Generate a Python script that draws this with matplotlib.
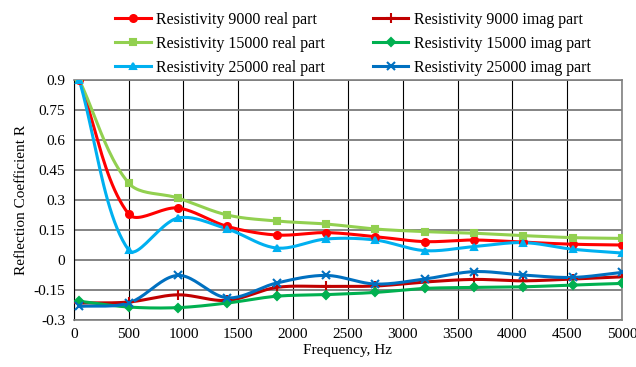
import numpy as np
import matplotlib
matplotlib.use("Agg")
import matplotlib.pyplot as plt
from matplotlib.lines import Line2D

plt.rcParams['font.family'] = ['Liberation Serif', 'DejaVu Serif']

freq = [50, 500, 950, 1400, 1850, 2300, 2750, 3200, 3650, 4100, 4550, 5000]
real_9000 = [0.90, 0.23, 0.26, 0.168, 0.125, 0.137, 0.117, 0.092, 0.10, 0.089, 0.079, 0.075]
imag_9000 = [-0.215, -0.21, -0.174, -0.202, -0.137, -0.132, -0.13, -0.11, -0.097, -0.104, -0.095, -0.084]
real_15000 = [0.90, 0.385, 0.31, 0.225, 0.195, 0.18, 0.155, 0.142, 0.134, 0.122, 0.112, 0.108]
imag_15000 = [-0.206, -0.235, -0.238, -0.215, -0.181, -0.173, -0.162, -0.142, -0.137, -0.134, -0.125, -0.117]
real_25000 = [0.90, 0.05, 0.21, 0.155, 0.06, 0.105, 0.10, 0.047, 0.067, 0.087, 0.054, 0.035]
imag_25000 = [-0.232, -0.215, -0.077, -0.189, -0.115, -0.077, -0.12, -0.095, -0.058, -0.075, -0.087, -0.062]

xticks = [0, 500, 1000, 1500, 2000, 2500, 3000, 3500, 4000, 4500, 5000]
yticks = [-0.3, -0.15, 0, 0.15, 0.3, 0.45, 0.6, 0.75, 0.9]
ytick_labels = ["-0.3", "-0.15", "0", "0.15", "0.3", "0.45", "0.6", "0.75", "0.9"]

XLIM = (0, 5000)
YLIM = (-0.3, 0.9)


def smooth(x, y, sx=548 / 5000, sy=200.0, n=24):
    """Chord-length scaled cubic Bezier smoothing (similar to Excel smoothed lines).
    Lengths are measured in approximate screen units (sx, sy) so the curve shape
    matches what is seen on the chart."""
    x = np.asarray(x, float)
    y = np.asarray(y, float)
    P = np.column_stack([x * sx, y * sy])
    m = len(P)
    xs, ys = [], []
    for i in range(m - 1):
        p0 = P[i - 1] if i > 0 else P[i]
        p1 = P[i]
        p2 = P[i + 1]
        p3 = P[i + 2] if i + 2 < m else P[i + 1]
        d01 = np.linalg.norm(p1 - p0)
        d12 = np.linalg.norm(p2 - p1)
        d23 = np.linalg.norm(p3 - p2)
        f1 = d12 / (d01 + d12) / 3.0 if d01 + d12 > 0 else 0
        f2 = d12 / (d12 + d23) / 3.0 if d12 + d23 > 0 else 0
        c1 = p1 + (p2 - p0) * f1
        c2 = p2 - (p3 - p1) * f2
        t = np.linspace(0, 1, n)[:, None]
        pts = ((1 - t) ** 3) * p1 + 3 * ((1 - t) ** 2) * t * c1 + 3 * (1 - t) * t ** 2 * c2 + t ** 3 * p2
        xs.extend(pts[:, 0] / sx)
        ys.extend(pts[:, 1] / sy)
    return np.array(xs), np.array(ys)


fig = plt.figure(figsize=(6.36, 3.67), dpi=100)
ax = fig.add_axes([0.116, 0.128, 0.862, 0.654])

series = [
    (real_9000, "#ff0000", "o", "Resistivity 9000 real part", 5),
    (imag_9000, "#c00000", "+", "Resistivity 9000 imag part", 7),
    (real_15000, "#92d050", "s", "Resistivity 15000 real part", 5),
    (imag_15000, "#00b050", "D", "Resistivity 15000 imag part", 4.5),
    (real_25000, "#00b0f0", "^", "Resistivity 25000 real part", 5),
    (imag_25000, "#0070c0", "x", "Resistivity 25000 imag part", 6),
]

handles = []
for y, c, m, lab, ms in series:
    sx_, sy_ = smooth(freq, y)
    ax.plot(sx_, sy_, color=c, lw=2.2, zorder=3)
    ax.plot(freq, y, linestyle='none', marker=m, color=c, ms=ms, mew=1.5, zorder=4)
    handles.append(Line2D([0], [0], color=c, lw=2.2, marker=m, ms=ms, mew=1.5, label=lab))

ax.set_xlim(*XLIM)
ax.set_ylim(*YLIM)
ax.set_xticks(xticks)
ax.set_yticks(yticks)
ax.set_yticklabels(ytick_labels)
ax.tick_params(length=0, labelsize=11, pad=6)
ax.grid(axis='y', color='#707070', lw=1.2)
ax.grid(axis='x', color='black', lw=0.8)
ax.set_axisbelow(True)
for s in ['top', 'right', 'bottom']:
    ax.spines[s].set_color('#808080')
    ax.spines[s].set_linewidth(1.2)
ax.spines['left'].set_color('black')
ax.spines['left'].set_linewidth(0.8)

ax.set_xlabel("Frequency, Hz", fontsize=11, labelpad=2)
ax.set_ylabel("Reflection Coefficient R", fontsize=11, labelpad=4)

order = [0, 2, 4, 1, 3, 5]
fig.legend([handles[i] for i in order], [handles[i].get_label() for i in order],
           loc='upper center', bbox_to_anchor=(0.555, 1.007), ncol=2, frameon=False,
           fontsize=11.5, handlelength=2.2, columnspacing=3.0, labelspacing=0.5,
           handletextpad=0.35)

fig.savefig("out.png", dpi=100)
